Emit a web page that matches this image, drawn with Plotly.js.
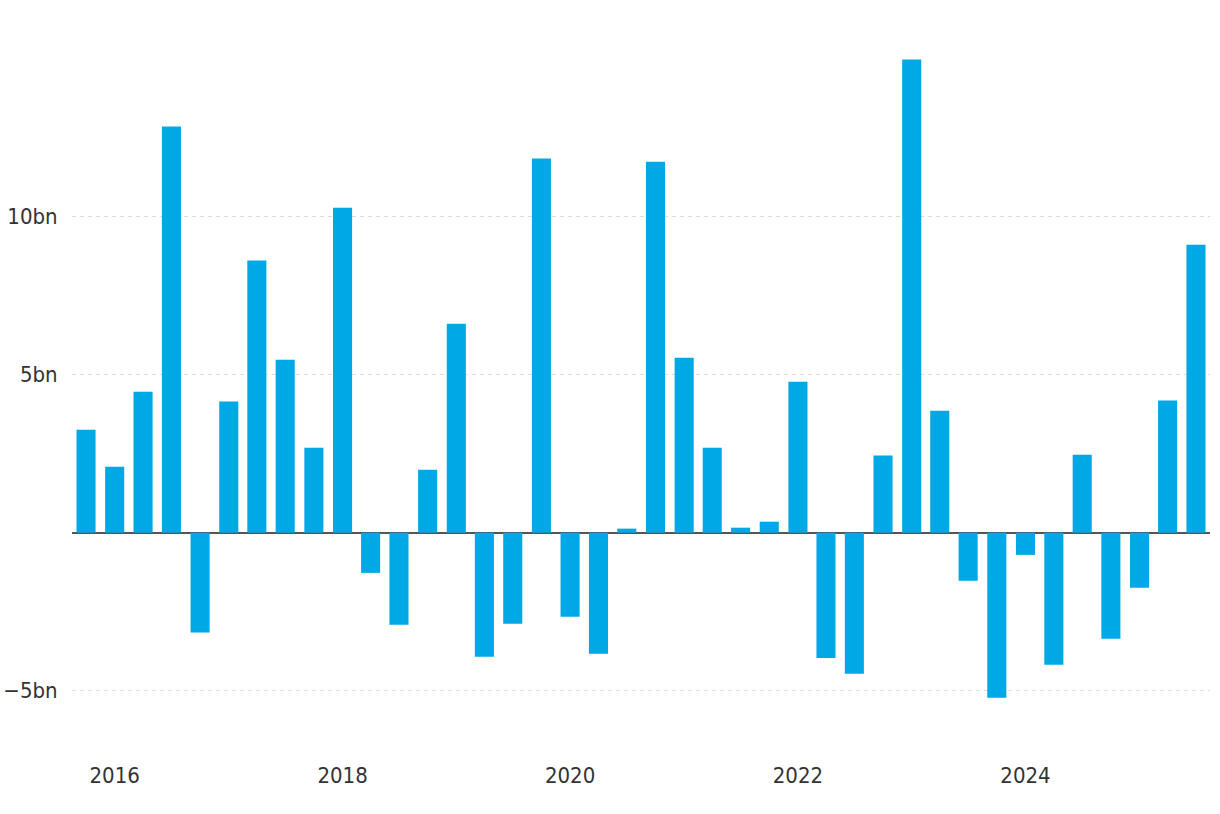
<!DOCTYPE html>
<html>
<head>
<meta charset="utf-8">
<script src="https://cdn.plot.ly/plotly-3.0.1.min.js"></script>
<style>
html,body{margin:0;padding:0;background:#fff;}
#chart{width:1220px;height:814px;}
#chart text{font-stretch:condensed !important;}
</style>
</head>
<body>
<div id="chart"></div>
<script>
// Quarter start dates, Q4 2015 to Q3 2025
const quarters = [
  "2015-10-01",
  "2016-01-01","2016-04-01","2016-07-01","2016-10-01",
  "2017-01-01","2017-04-01","2017-07-01","2017-10-01",
  "2018-01-01","2018-04-01","2018-07-01","2018-10-01",
  "2019-01-01","2019-04-01","2019-07-01","2019-10-01",
  "2020-01-01","2020-04-01","2020-07-01","2020-10-01",
  "2021-01-01","2021-04-01","2021-07-01","2021-10-01",
  "2022-01-01","2022-04-01","2022-07-01","2022-10-01",
  "2023-01-01","2023-04-01","2023-07-01","2023-10-01",
  "2024-01-01","2024-04-01","2024-07-01","2024-10-01",
  "2025-01-01","2025-04-01","2025-07-01"
];
// values in billions
const values = [
  3.26,
  2.09, 4.46, 12.85, -3.16,
  4.15, 8.61, 5.47, 2.69,
  10.28, -1.27, -2.91, 1.99,
  6.61, -3.92, -2.88, 11.84,
  -2.66, -3.83, 0.13, 11.74,
  5.54, 2.69, 0.16, 0.35,
  4.78, -3.96, -4.46, 2.44,
  14.97, 3.86, -1.52, -5.22,
  -0.70, -4.18, 2.47, -3.35,
  -1.74, 4.18, 9.11
];
const yTickVals = [-5, 5, 10];
const yTickText = ["\u22125bn", "5bn", "10bn"];

const fontFam = '"DejaVu Sans Condensed", "Liberation Sans Narrow", "Arial Narrow", sans-serif';

const trace = {
  type: 'bar',
  x: quarters,
  y: values,
  marker: {color: '#00a9e5'},
  hoverinfo: 'x+y'
};

const layout = {
  width: 1220,
  height: 814,
  margin: {l: 72, r: 10, t: 27, b: 60},
  paper_bgcolor: '#ffffff',
  plot_bgcolor: '#ffffff',
  bargap: 0.32,
  showlegend: false,
  font: {family: fontFam, size: 22, color: '#333333'},
  xaxis: {
    type: 'date',
    range: ['2015-08-17', '2025-08-15'],
    tick0: '2016-01-01',
    dtick: 'M24',
    tickformat: '%Y',
    showgrid: false,
    zeroline: false,
    showline: false,
    ticks: 'outside',
    ticklen: 2,
    tickcolor: 'rgba(0,0,0,0)',
    tickfont: {family: fontFam, size: 22, color: '#333333'}
  },
  yaxis: {
    range: [-7, 16],
    tickmode: 'array',
    tickvals: yTickVals,
    ticktext: yTickText,
    showgrid: true,
    gridcolor: '#dcdcdc',
    gridwidth: 1,
    griddash: '4px,4px',
    zeroline: true,
    zerolinecolor: '#555555',
    zerolinewidth: 2,
    showline: false,
    ticks: 'outside',
    ticklen: 9,
    tickcolor: 'rgba(0,0,0,0)',
    tickfont: {family: fontFam, size: 22, color: '#333333'}
  }
};

Plotly.newPlot('chart', [trace], layout, {displayModeBar: false, staticPlot: true});
</script>
</body>
</html>
